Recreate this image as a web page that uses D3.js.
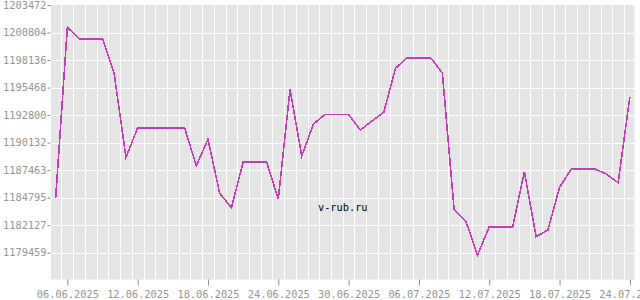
<!DOCTYPE html>
<html>
<head>
<meta charset="utf-8">
<script src="https://cdn.jsdelivr.net/npm/d3@7"></script>
<style>
  body { margin: 0; background: #fff; }
  svg { display: block; }
</style>
</head>
<body>
<svg></svg>
<script>
const width = 640;
const height = 300;
const plotLeft = 51, plotRight = 634.5, plotTop = 5, plotBottom = 279.5;

const dates = ["05.06.2025", "06.06.2025", "07.06.2025", "08.06.2025", "09.06.2025",
    "10.06.2025", "11.06.2025", "12.06.2025", "13.06.2025", "14.06.2025",
    "15.06.2025", "16.06.2025", "17.06.2025", "18.06.2025", "19.06.2025",
    "20.06.2025", "21.06.2025", "22.06.2025", "23.06.2025", "24.06.2025",
    "25.06.2025", "26.06.2025", "27.06.2025", "28.06.2025", "29.06.2025",
    "30.06.2025", "01.07.2025", "02.07.2025", "03.07.2025", "04.07.2025",
    "05.07.2025", "06.07.2025", "07.07.2025", "08.07.2025", "09.07.2025",
    "10.07.2025", "11.07.2025", "12.07.2025", "13.07.2025", "14.07.2025",
    "15.07.2025", "16.07.2025", "17.07.2025", "18.07.2025", "19.07.2025",
    "20.07.2025", "21.07.2025", "22.07.2025", "23.07.2025", "24.07.2025"];

const values = [1184712, 1201310, 1200205, 1200205, 1200205,
    1196782, 1188687, 1191576, 1191576, 1191576,
    1191576, 1191576, 1187892, 1190452, 1185216,
    1183820, 1188251, 1188251, 1188251, 1184664,
    1195300, 1188832, 1191935, 1192875, 1192875,
    1192875, 1191354, 1192226, 1193069, 1197335,
    1198363, 1198363, 1198363, 1196880, 1183665,
    1182531, 1179234, 1181978, 1181978, 1181978,
    1187311, 1181008, 1181658, 1185778, 1187572,
    1187572, 1187572, 1187087, 1186244, 1194582];

const xTickLabels = ["06.06.2025", "12.06.2025", "18.06.2025", "24.06.2025", "30.06.2025",
    "06.07.2025", "12.07.2025", "18.07.2025", "24.07.2025"];

const yTickLabels = [1179459, 1182127, 1184795, 1187463, 1190132,
    1192800, 1195468, 1198136, 1200804, 1203472];

const parse = d3.utcParse("%d.%m.%Y");
const data = dates.map((d, i) => ({ date: parse(d), value: values[i] }));
const hour = 3600 * 1000;

let svg = d3.select("svg")
    .attr("width", width)
    .attr("height", height)

let x = d3.scaleUtc()
    .domain([+data[0].date - 9.5 * hour, +data[data.length - 1].date + 9.5 * hour])
    .range([plotLeft, plotRight]);

let y = d3.scaleLinear()
    .domain([1176861, 1203472])
    .range([plotBottom, plotTop]);

svg.append("rect")
    .attr("x", plotLeft)
    .attr("y", plotTop)
    .attr("width", plotRight - plotLeft)
    .attr("height", plotBottom - plotTop)
    .attr("fill", "#e5e5e5")

// vertical grid sits half a day off the data points
let grid = svg.append("g")
    .attr("stroke", "#fff")
    .attr("stroke-width", 1.2)
    .attr("shape-rendering", "crispEdges")

grid.selectAll(".vg")
    .data(data.map(d => new Date(+d.date + 12 * hour)).filter(d => x(d) < plotRight))
    .enter().append("line")
    .attr("x1", d => Math.round(x(d)) + 0.5)
    .attr("x2", d => Math.round(x(d)) + 0.5)
    .attr("y1", plotTop)
    .attr("y2", plotBottom)

grid.selectAll(".hg")
    .data(yTickLabels.slice(0, -1))
    .enter().append("line")
    .attr("x1", plotLeft)
    .attr("x2", plotRight)
    .attr("y1", d => Math.round(y(d)) + 0.5)
    .attr("y2", d => Math.round(y(d)) + 0.5)

let xAxis = d3.axisBottom(x)
    .tickValues(xTickLabels.map(parse))
    .tickFormat(d3.utcFormat("%d.%m.%Y"))
    .tickSize(6)
    .tickPadding(5)

svg.append("g")
    .attr("transform", `translate(0, ${plotBottom})`)
    .call(xAxis)
    .call(g => g.select(".domain").remove())

let yAxis = d3.axisLeft(y)
    .tickValues(yTickLabels)
    .tickFormat(d => d)
    .tickSize(3)
    .tickPadding(1)

svg.append("g")
    .attr("transform", `translate(${plotLeft - 0.5}, 0)`)
    .call(yAxis)
    .call(g => g.select(".domain").remove())

svg.selectAll(".tick text")
    .attr("fill", "#959595")
    .style("font-family", "DejaVu Sans Mono")
    .style("font-size", "10.3px")
svg.selectAll(".tick line")
    .attr("stroke", "#8c8c8c")

svg.append("text")
    .attr("x", (plotLeft + plotRight) / 2)
    .attr("y", 210.5)
    .style("text-anchor", "middle")
    .style("font-family", "DejaVu Sans Mono")
    .style("font-size", "10.3px")
    .attr("fill", "#000")
    .text("v-rub.ru")

svg.append("path")
    .datum(data)
    .attr("fill", "none")
    .attr("stroke", "#c43cb8")
    .attr("stroke-width", 1.6)
    .attr("shape-rendering", "crispEdges")
    .attr("d", d3.line().x(d => x(d.date)).y(d => y(d.value)))
</script>
</body>
</html>
